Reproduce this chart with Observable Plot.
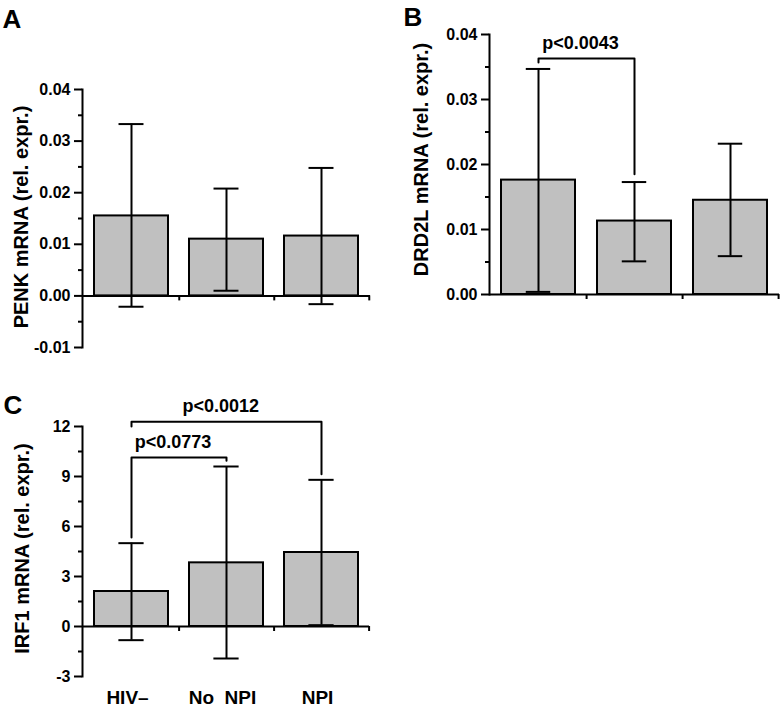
<!DOCTYPE html>
<html><head><meta charset="utf-8">
<script src="https://cdn.jsdelivr.net/npm/d3@7"></script>
<script src="https://cdn.jsdelivr.net/npm/@observablehq/plot@0.6"></script>
<style>
body{margin:0;background:#fff;}
#root{position:relative;width:782px;height:707px;overflow:hidden;background:#fff;}
#root > svg{position:absolute;}
</style></head><body><div id="root"></div>
<script>
// ---- data ----
const groups = ["HIV–", "No  NPI", "NPI"];
const xTickLabels = ["HIV–", "No\u00a0\u00a0NPI", "NPI"];

// Panel A: PENK
const penkMean = [0.0155, 0.0110, 0.0116];
const penkLo   = [-0.0021, 0.0010, -0.0016];
const penkHi   = [0.0333, 0.0208, 0.0248];
const penkTicks = [-0.01, 0, 0.01, 0.02, 0.03, 0.04];
const penkTickLabels = ["-0.01", "0.00", "0.01", "0.02", "0.03", "0.04"];
const penkMinor = [-0.005, 0.005, 0.015, 0.025, 0.035];

// Panel B: DRD2L
const drdMean = [0.0176, 0.0113, 0.0145];
const drdLo   = [0.0004, 0.0051, 0.0059];
const drdHi   = [0.0347, 0.0173, 0.0232];
const drdTicks = [0, 0.01, 0.02, 0.03, 0.04];
const drdTickLabels = ["0.00", "0.01", "0.02", "0.03", "0.04"];
const drdMinor = [0.005, 0.015, 0.025, 0.035];
const drdBrFrom = ["HIV–"];
const drdBrTo = ["No  NPI"];
const drdBrTop = [0.0363];
const drdBrFromEnd = [0.0357];
const drdBrToEnd = [0.0185];
const drdBrLabel = ["p<0.0043"];

// Panel C: IRF1
const irfMean = [2.10, 3.82, 4.44];
const irfLo   = [-0.82, -1.92, 0.08];
const irfHi   = [5.00, 9.60, 8.80];
const irfTicks = [-3, 0, 3, 6, 9, 12];
const irfTickLabels = ["-3", "0", "3", "6", "9", "12"];
const irfMinor = [-1.5, 1.5, 4.5, 7.5, 10.5];
const irfBrFrom = ["HIV–", "HIV–"];
const irfBrTo = ["NPI", "No  NPI"];
const irfBrTop = [12.28, 10.14];
const irfBrFromEnd = [12.0, 5.34];
const irfBrToEnd = [9.14, 9.94];
const irfBrLabel = ["p<0.0012", "p<0.0773"];

const panelLetters = ["A", "B", "C"];
const yLabels = ["PENK mRNA (rel. expr.)", "DRD2L mRNA (rel. expr.)", "IRF1 mRNA (rel. expr.)"];

// ---- drawing ----
const FONT = "'Liberation Sans', Arial, Helvetica, sans-serif";
const PI = 0.225, PO = 0.12;

function panel(cfg) {
  const {means, los, his, ticks, tickLabels, minor, yDomain, yLabel, letter,
         br, showX, left, top, width, height, ml, mr, mt, mb,
         labelDx, labelDy, letterDx, letterDy} = cfg;
  const rows = groups.map((g, i) => ({group: g, mean: means[i], lo: los[i], hi: his[i]}));
  const step = (width - ml - mr) / (groups.length - PI + 2 * PO);
  const bw = step * (1 - PI);
  const capInset = (bw - 25) / 2;
  const marks = [
    Plot.barY(rows, {x: "group", y: "mean", fill: "#c0c0c0", stroke: "#000", strokeWidth: 2}),
    Plot.ruleX(rows, {x: "group", y1: "lo", y2: "hi", stroke: "#000", strokeWidth: 2}),
    Plot.tickY(rows, {x: "group", y: "hi", insetLeft: capInset, insetRight: capInset, stroke: "#000", strokeWidth: 2}),
    Plot.tickY(rows, {x: "group", y: "lo", insetLeft: capInset, insetRight: capInset, stroke: "#000", strokeWidth: 2}),
    Plot.ruleY([0], {stroke: "#000", strokeWidth: 2}),
    Plot.ruleX(rows, {x: "group", y1: () => 0, y2: () => 0, insetBottom: -5, dx: step / 2, stroke: "#000", strokeWidth: 2}),
    Plot.frame({anchor: "left", stroke: "#000", strokeWidth: 2}),
    Plot.axisY(ticks, {tickSize: 8, tickPadding: 4, tickFormat: d => tickLabels[ticks.indexOf(d)], strokeWidth: 2, fontSize: 16, fontWeight: "bold", label: null}),
    Plot.axisY(minor, {tickSize: 4, tickFormat: () => "", strokeWidth: 2, label: null}),
    Plot.text([yLabel], {text: d => d, frameAnchor: "left", textAnchor: "middle", rotate: -90, lineAnchor: "bottom", dx: labelDx, dy: labelDy, fontSize: 20, fontWeight: "bold"}),
    Plot.text([letter], {text: d => d, frameAnchor: "top-left", textAnchor: "start", lineAnchor: "bottom", dx: letterDx, dy: letterDy, fontSize: 26, fontWeight: "bold"})
  ];
  if (br) {
    br.from.forEach((f, i) => {
      const t = br.to[i];
      const pts = [
        {group: f, v: br.fromEnd[i]}, {group: f, v: br.top[i]},
        {group: t, v: br.top[i]}, {group: t, v: br.toEnd[i]}
      ];
      const span = groups.indexOf(t) - groups.indexOf(f);
      marks.push(Plot.line(pts, {x: "group", y: "v", stroke: "#000", strokeWidth: 2}));
      marks.push(Plot.text([br.label[i]], {text: d => d, x: () => f, y: () => br.top[i], textAnchor: "middle", lineAnchor: "bottom", dx: span * step / 2 - 6, dy: -10, fontSize: 18, fontWeight: "bold"}));
    });
  }
  if (showX) {
    marks.push(Plot.axisX({tickSize: 0, tickPadding: 14, tickFormat: d => xTickLabels[groups.indexOf(d)], fontSize: 19, fontWeight: "bold", dx: -4, label: null}));
  }
  const svg = Plot.plot({
    width, height, marginLeft: ml, marginRight: mr, marginTop: mt, marginBottom: mb,
    style: {fontFamily: FONT, fontWeight: "bold", fontSize: "16px", color: "#000", background: "transparent", overflow: "visible"},
    x: {type: "band", domain: groups, paddingInner: PI, paddingOuter: PO, axis: showX ? undefined : null, label: null},
    y: {domain: yDomain, label: null},
    marks
  });
  svg.style.left = left + "px";
  svg.style.top = top + "px";
  document.getElementById("root").appendChild(svg);
}

panel({means: penkMean, los: penkLo, his: penkHi, ticks: penkTicks, tickLabels: penkTickLabels, minor: penkMinor,
  yDomain: [-0.01, 0.04], yLabel: yLabels[0], letter: panelLetters[0], br: null, showX: false,
  left: 0, top: 0, width: 390, height: 365, ml: 82, mr: 20, mt: 89, mb: 18,
  labelDx: -54.5, labelDy: -1.5, letterDx: -80, letterDy: -62});

panel({means: drdMean, los: drdLo, his: drdHi, ticks: drdTicks, tickLabels: drdTickLabels, minor: drdMinor,
  yDomain: [0, 0.04], yLabel: yLabels[1], letter: panelLetters[1],
  br: {from: drdBrFrom, to: drdBrTo, top: drdBrTop, fromEnd: drdBrFromEnd, toEnd: drdBrToEnd, label: drdBrLabel}, showX: false,
  left: 390, top: 0, width: 392, height: 320, ml: 99, mr: 3, mt: 34, mb: 26,
  labelDx: -62, labelDy: -5, letterDx: -86, letterDy: -9});

panel({means: irfMean, los: irfLo, his: irfHi, ticks: irfTicks, tickLabels: irfTickLabels, minor: irfMinor,
  yDomain: [-3, 12], yLabel: yLabels[2], letter: panelLetters[2],
  br: {from: irfBrFrom, to: irfBrTo, top: irfBrTop, fromEnd: irfBrFromEnd, toEnd: irfBrToEnd, label: irfBrLabel}, showX: true,
  left: 0, top: 370, width: 390, height: 337, ml: 82, mr: 21, mt: 56, mb: 31,
  labelDx: -54, labelDy: -3, letterDx: -79, letterDy: -13});
</script></body></html>
